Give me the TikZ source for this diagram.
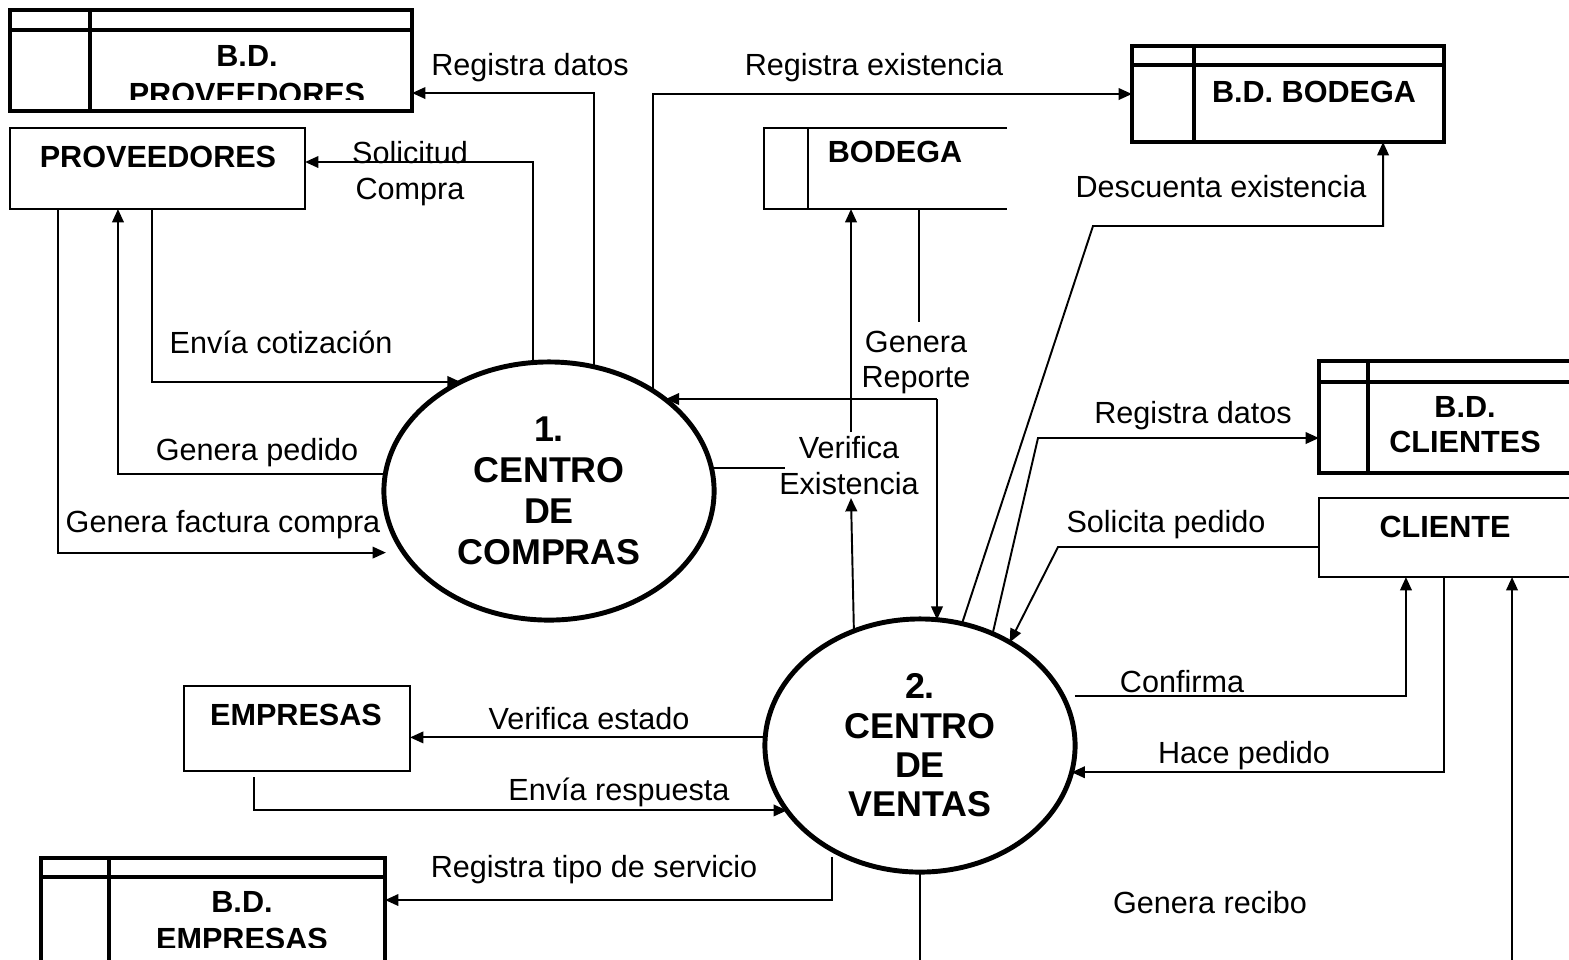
\documentclass[tikz,border=0pt]{standalone}
\usepackage{fontspec}
\setmainfont{Liberation Sans}
\usetikzlibrary{arrows.meta,shapes.geometric}
\newcommand\dsinner[3]{%
  \draw[thk] ([yshift=-#2]#1.north west) -- ([yshift=-#2]#1.north east);
  \draw[thk] ([xshift=#3]#1.north west) -- ([xshift=#3]#1.south west);}
\begin{document}
\begin{tikzpicture}[x=0.01cm,y=-0.01cm,
  lbl/.style={font=\fontsize{8.7}{10}\selectfont, inner sep=0pt, align=center},
  bl/.style={font=\fontsize{8.7}{10}\selectfont\bfseries, inner sep=0pt, align=center},
  ln/.style={line width=0.55pt},
  thk/.style={line width=1.3pt},
  arr/.style={ln, -{Triangle[length=3.8pt,width=3.3pt]}},
  store/.style={draw, line width=1.3pt, inner sep=0pt, outer sep=0pt},
  ext/.style={draw, line width=0.55pt, inner sep=0pt, outer sep=0pt},
  proc/.style={ellipse, draw, line width=1.4pt, inner sep=0pt, outer sep=0pt, align=center}]
\fill[white] (0,0) rectangle (1569,959);
\useasboundingbox (0,0) rectangle (1569,959);

% ---------- nodes ----------
\node[store, minimum width=4.02cm, minimum height=1.01cm] (bdprov) at (211,60.5) {};
\node[ext, minimum width=2.95cm, minimum height=0.81cm] (prov) at (157.5,168.5) {};
\node[inner sep=0pt, outer sep=0pt, minimum width=2.43cm, minimum height=0.81cm] (bod) at (885.5,168.5) {};
\node[store, minimum width=3.12cm, minimum height=0.96cm] (bdbod) at (1288,94) {};
\node[store, minimum width=3.01cm, minimum height=1.12cm] (bdcli) at (1469.5,417) {};
\node[ext, minimum width=3.01cm, minimum height=0.79cm] (cliente) at (1469.5,537.5) {};
\node[ext, minimum width=2.26cm, minimum height=0.85cm] (emp) at (297,728.5) {};
\node[store, minimum width=3.44cm, minimum height=1.07cm] (bdemp) at (213,911.5) {};
\node[proc, minimum width=3.30cm, minimum height=2.58cm,
      font=\fontsize{10.2}{11.7}\selectfont\bfseries] (c1) at (549,491) {1.\\CENTRO\\DE\\COMPRAS};
\node[proc, minimum width=3.10cm, minimum height=2.53cm,
      font=\fontsize{10.2}{11.2}\selectfont\bfseries] (c2) at (920,745.5) {2.\\CENTRO\\DE\\VENTAS};

% store inner lines
\dsinner{bdprov}{0.20cm}{0.80cm}
\dsinner{bdbod}{0.19cm}{0.62cm}
\dsinner{bdcli}{0.21cm}{0.49cm}
\dsinner{bdemp}{0.19cm}{0.68cm}
% open store BODEGA
\draw[ln] (bod.north east) -- (bod.north west) -- (bod.south west) -- (bod.south east);
\draw[ln] ([xshift=0.44cm]bod.north west) -- ([xshift=0.44cm]bod.south west);

% ---------- entity texts ----------
\node[bl, anchor=base] (tbdbod) at (1314,102) {B.D. BODEGA};
\node[bl, anchor=base] (tbod) at (895,162) {BODEGA};
\node[bl, anchor=base] (tprov) at (158,167) {PROVEEDORES};
\node[bl, anchor=base] (temp) at (296,725) {EMPRESAS};
\node[bl, anchor=base] (tcli) at (1445,537) {CLIENTE};
\node[bl, anchor=north] (tbdcli) at (1465,396) {B.D.\\CLIENTES};
\begin{scope}
  \clip (bdprov.north west) rectangle ([yshift=0.12cm]bdprov.south east);
  \node[bl, anchor=north] (tbdprov) at (247,45) {B.D.\\[0.7pt]PROVEEDORES};
\end{scope}
\begin{scope}
  \clip (bdemp.north west) rectangle ([yshift=0.18cm]bdemp.south east);
  \node[bl, anchor=north] (tbdemp) at (242,891) {B.D.\\[0.4pt]EMPRESAS};
\end{scope}

% ---------- flow labels ----------
\node[lbl, anchor=base] (f1) at (530,75) {Registra datos};
\node[lbl, anchor=north] (f2) at (410,141) {Solicitud\\Compra};
\node[lbl, anchor=base] (f3) at (874,75) {Registra existencia};
\node[lbl, anchor=base] (f4) at (1221,197) {Descuenta existencia};
\node[lbl, anchor=base] (f5) at (281,353) {Envía cotización};
\node[lbl, anchor=north] (f6) at (916,330) {Genera\\Reporte};
\node[lbl, anchor=base] (f7) at (257,460) {Genera pedido};
\node[lbl, anchor=base] (f8) at (223,532) {Genera factura compra};
\node[lbl, anchor=north] (f9) at (849,436) {Verifica\\Existencia};
\node[lbl, anchor=base] (f10) at (1193,423) {Registra datos};
\node[lbl, anchor=base] (f11) at (1166,532) {Solicita pedido};
\node[lbl, anchor=base] (f12) at (1182,692) {Confirma};
\node[lbl, anchor=base] (f13) at (1244,763) {Hace pedido};
\node[lbl, anchor=base] (f14) at (589,729) {Verifica estado};
\node[lbl, anchor=base] (f15) at (619,800) {Envía respuesta};
\node[lbl, anchor=base] (f16) at (594,877) {Registra tipo de servicio};
\node[lbl, anchor=base] (f17) at (1210,913) {Genera recibo};

% ---------- helper coordinates ----------
\coordinate (ve2) at (851,432);
\coordinate (ve3) at (851,498);
\coordinate (jn) at (937,399);
\coordinate (sp1) at (1058,547);
\coordinate (rd2) at (1038,438);
\coordinate (dx1) at (1093,226);
\coordinate (gr) at (1200,1000);

% ---------- connectors ----------
\draw[arr] (c1.70) |- ([yshift=-0.325cm]bdprov.east);
\draw[arr] (c1.97) |- ([yshift=0.065cm]prov.east);
\draw[arr] (c1.44) |- (bdbod.west);
\draw[arr] ([xshift=1.42cm]prov.south west) |- (c1.129);
\draw[arr] (c1.174) -| ([xshift=1.08cm]prov.south west);
\draw[arr, shorten >=0.18cm] ([xshift=0.48cm]prov.south west) |- (c1.203);
\draw[ln] (c1.8) -- ++(74,0);
\draw[arr] (ve2) -- (bod.south -| ve2);
\draw[arr] (c2.120) -- (ve3);
\draw[ln] ([xshift=1.55cm]bod.south west) -- ++(0,113);
\draw[arr] (jn) -- (jn -| c1.38);
\draw[arr] (jn) -- (jn |- c2.82);
\draw[arr] (c2.71) -- (dx1) -| ([xshift=2.51cm]bdbod.south west);
\draw[arr] (c2.57) -- (rd2) -- (rd2 -| bdcli.west);
\draw[arr] ([yshift=-0.095cm]cliente.west) -- (sp1) -- (c2.49);
\draw[arr, shorten <=0.12cm] (c2.19) -| ([xshift=0.87cm]cliente.south west);
\draw[arr] ([xshift=1.25cm]cliente.south west) |- (c2.350);
\draw[arr] (c2.south) |- (gr) -| ([xshift=1.93cm]cliente.south west);
\draw[arr] (c2.177) -- (c2.177 -| emp.east);
\draw[arr] ([xshift=0.70cm,yshift=-0.06cm]emp.south west) |- (c2.206);
\draw[arr, shorten <=0.07cm] (c2.230) |- ([yshift=0.115cm]bdemp.east);
\end{tikzpicture}
\end{document}
